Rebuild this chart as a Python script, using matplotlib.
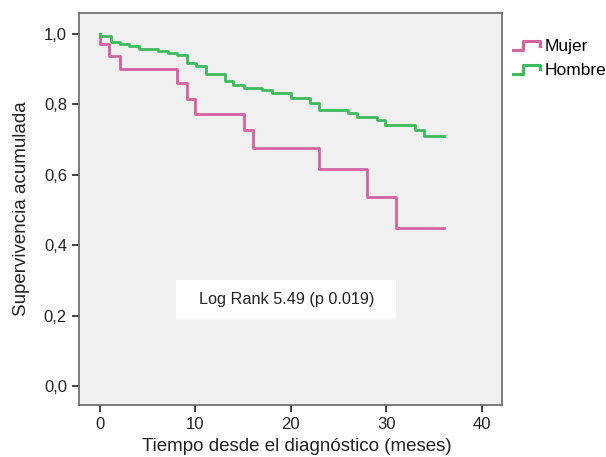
import matplotlib
matplotlib.use("Agg")
import matplotlib.pyplot as plt
from matplotlib.lines import Line2D
from matplotlib.patches import Rectangle
from matplotlib.legend_handler import HandlerBase

plt.rcParams['font.family'] = ['Liberation Sans', 'DejaVu Sans']

# Kaplan-Meier step points (time in months, cumulative survival)
mujer_t = [0, 0, 1, 2.1, 8.1, 9.1, 10, 15.1, 16.05, 23, 28, 31, 36]
mujer_s = [1.0, 0.972, 0.937, 0.902, 0.860, 0.815, 0.773, 0.727, 0.677, 0.616, 0.538, 0.450, 0.450]

hombre_t = [0, 0, 1.15, 2.1, 3.1, 4.1, 6.1, 7.15, 8.1, 9.1, 10.1, 11.1, 13.1, 14.0,
            15.1, 17.0, 18.0, 20.0, 22.0, 23.0, 26.0, 26.9, 29.0, 29.9, 33.0, 34.0, 36]
hombre_s = [1.0, 0.995, 0.978, 0.973, 0.967, 0.957, 0.952, 0.946, 0.941, 0.918, 0.910,
            0.886, 0.866, 0.854, 0.847, 0.840, 0.833, 0.817, 0.803, 0.784, 0.775, 0.765,
            0.756, 0.741, 0.727, 0.711, 0.711]

x_ticks = [0, 10, 20, 30, 40]
y_ticks = [0.0, 0.2, 0.4, 0.6, 0.8, 1.0]
y_labels = ['0,0', '0,2', '0,4', '0,6', '0,8', '1,0']

pink = '#d4629f'
green = '#3dba5c'


class StepHandler(HandlerBase):
    def create_artists(self, legend, orig, x0, y0, width, height, fontsize, trans):
        xs = [x0, x0 + 0.4 * width, x0 + 0.4 * width, x0 + width, x0 + width]
        ys = [y0 + 0.1 * height, y0 + 0.1 * height, y0 + 0.8 * height,
              y0 + 0.8 * height, y0 + 0.45 * height]
        ln = Line2D(xs, ys, color=orig.get_color(), lw=2.2, transform=trans)
        return [ln]


fig = plt.figure(figsize=(6.06, 4.57), dpi=100)
ax = fig.add_axes([0.130, 0.1138, 0.698, 0.8578])
ax.set_facecolor('#f0f0f0')

ax.step(mujer_t, mujer_s, where='post', color=pink, lw=2)
ax.step(hombre_t, hombre_s, where='post', color=green, lw=2)

ax.set_xlim(-2.2, 42.1)
ax.set_ylim(-0.054, 1.06)
ax.set_xticks(x_ticks)
ax.set_yticks(y_ticks)
ax.set_yticklabels(y_labels)
ax.tick_params(labelsize=12, colors='#222222', length=5, width=1.2)
for s in ax.spines.values():
    s.set_color('#666666')
    s.set_linewidth(1.2)

ax.set_xlabel('Tiempo desde el diagnóstico (meses)', fontsize=13.5, color='#222222')
ax.xaxis.set_label_coords(0.5166, -0.083)
ax.set_ylabel('Supervivencia acumulada', fontsize=13.5, color='#222222', labelpad=10)

# white annotation box
ax.add_patch(Rectangle((0.231, 0.219), 0.520, 0.099, transform=ax.transAxes,
                       facecolor='white', edgecolor='none', zorder=3))
ax.text(0.491, 0.2685, 'Log Rank 5.49 (p 0.019)', transform=ax.transAxes,
        ha='center', va='center', fontsize=11.7, color='#222222', zorder=4)

handles = [Line2D([], [], color=pink, lw=2), Line2D([], [], color=green, lw=2)]
fig.legend(handles, ['Mujer', 'Hombre'], loc='upper left', bbox_to_anchor=(0.846, 0.915),
           frameon=False, fontsize=12.5, handlelength=1.55, handletextpad=0.28,
           labelspacing=0.5, borderpad=0, borderaxespad=0,
           handler_map={Line2D: StepHandler()})

fig.savefig('out.png', dpi=100, facecolor='white')
